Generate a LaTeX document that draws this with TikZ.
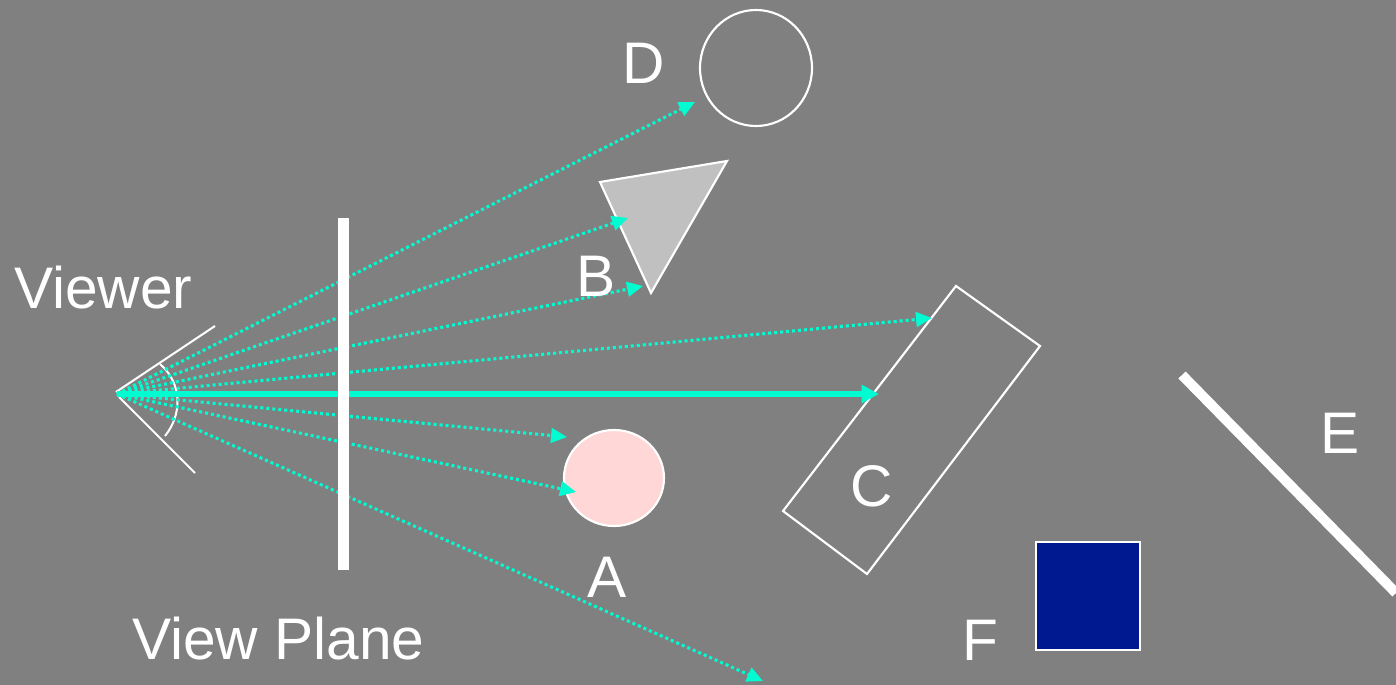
\documentclass[tikz,border=0pt]{standalone}
\usepackage{fontspec}
\setmainfont{Liberation Sans}
\usetikzlibrary{arrows.meta}
\definecolor{bg}{HTML}{808080}
\definecolor{ray}{HTML}{00FCD0}
\definecolor{pinkfill}{HTML}{FFD7D7}
\definecolor{grayfill}{HTML}{C0C0C0}
\definecolor{navyfill}{HTML}{001890}
\tikzset{
  lbl/.style={text=white, font=\fontsize{44}{50}\selectfont, inner sep=0pt, anchor=base},
  outline/.style={draw=white, line width=1.6pt, line join=miter},
  eyeline/.style={draw=white, line width=1.5pt},
  dotray/.style={draw=ray, line width=2.3pt, dash pattern=on 2.3pt off 2.2pt,
    -{Triangle[length=12pt,width=11pt,fill=ray]}},
  solidray/.style={draw=ray, line width=4.5pt,
    -{Triangle[length=13pt,width=13pt,fill=ray]}}
}
\begin{document}
\begin{tikzpicture}[x=0.75pt,y=-0.75pt]
\fill[bg] (0,0) rectangle (1396,685);
\useasboundingbox (0,0) rectangle (1396,685);

% objects
\draw[outline] (756,68) ellipse [x radius=56, y radius=58];
\draw[outline, fill=grayfill] (600,182) -- (727,161) -- (651,293) -- cycle;
\draw[outline, fill=pinkfill] (614,478) ellipse [x radius=50, y radius=48];
\draw[outline] (956,286) -- (1040,346) -- (867,574) -- (783,511) -- cycle;
\draw[white, line width=7.5pt] (1182,375) -- (1396,593);
\draw[outline, fill=navyfill] (1036,542) rectangle (1140,650);

% viewer
\coordinate (eye) at (117,394);
\coordinate (eyeU) at (215,326);
\coordinate (eyeL) at (195,473);
\draw[eyeline] (116,392) -- (eyeU);
\draw[eyeline] (119,397) -- (eyeL);
\draw[eyeline] (160,364) .. controls (183,384) and (182,415) .. (165,436);

% ray targets
\coordinate (tD) at (695,102);
\coordinate (tB1) at (628,218);
\coordinate (tB2) at (643,286);
\coordinate (tC1) at (932,318);
\coordinate (tC2) at (879,394);
\coordinate (tA1) at (567,437);
\coordinate (tA2) at (576,492);
\coordinate (tX) at (763,681);

\draw[dotray] (eye) -- (tD);
\draw[dotray] (eye) -- (tB1);
\draw[dotray] (eye) -- (tB2);
\draw[dotray] (eye) -- (tC1);
\draw[dotray] (eye) -- (tA1);
\draw[dotray] (eye) -- (tA2);
\draw[dotray] (eye) -- (tX);
\draw[solidray] (eye) -- (tC2);

% view plane
\fill[white] (338,218) rectangle (349,570);

% labels
\node[lbl, anchor=base west] (viewer) at (14,308) {Viewer};
\node[lbl, anchor=base west] (vplane) at (132,659) {View Plane};
\node[lbl] (labD) at (644,84) {D};
\node[lbl] (labB) at (596,296) {B};
\node[lbl] (labA) at (607,597) {A};
\node[lbl] (labC) at (872,506) {C};
\node[lbl] (labE) at (1340,453) {E};
\node[lbl] (labF) at (980,660) {F};
\end{tikzpicture}
\end{document}
